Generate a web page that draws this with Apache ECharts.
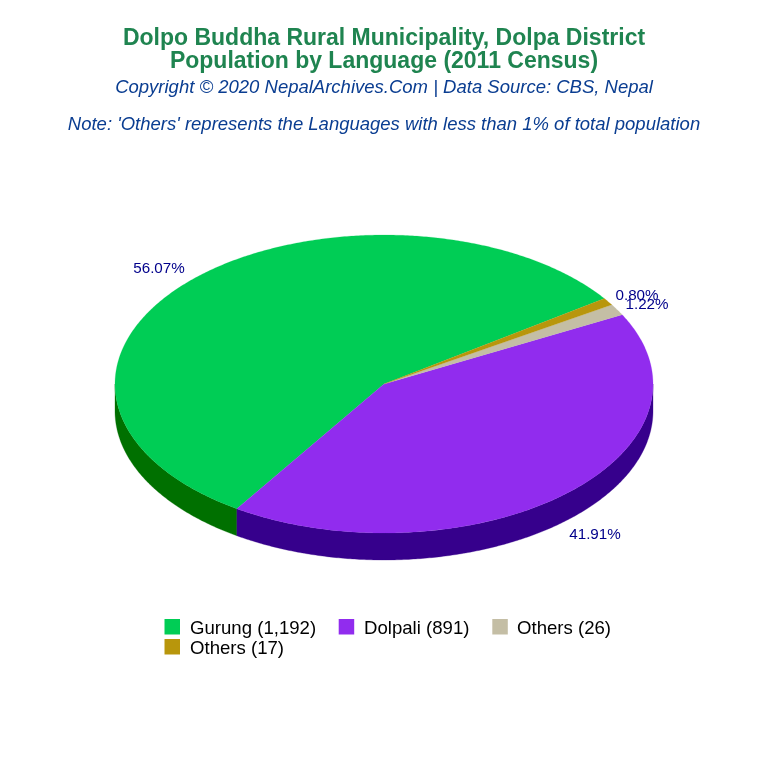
<!DOCTYPE html>
<html><head><meta charset="utf-8">
<style>html,body{margin:0;padding:0;background:#fff}#c{width:768px;height:768px}</style>
<script src="https://cdn.jsdelivr.net/npm/echarts@6/dist/echarts.min.js"></script>
</head><body><div id="c"></div>
<script>
const categories = ['Gurung (1,192)', 'Dolpali (891)', 'Others (26)', 'Others (17)'];
const values = [1192, 891, 26, 17];
const percentLabels = ['56.07%', '41.91%', '1.22%', '0.80%'];
const topColors = ['#00CD55', '#912CEE', '#C4BEA5', '#B8960C'];
const sideColors = ['#007000', '#36008C', '#8A8570', '#7A6200'];

const cx = 384, cy = 384, rx = 269, ry = 149, depth = 27;
const startDeg = 35;
const total = values.reduce((a, b) => a + b, 0);
const FONT = 'Liberation Sans';

function pt(deg, dy) {
  const r = deg * Math.PI / 180;
  return [cx + rx * Math.cos(r), cy - ry * Math.sin(r) + (dy || 0)];
}
function arc(a, b, dy) {
  const out = [];
  const n = Math.max(2, Math.ceil(Math.abs(b - a) * 2));
  for (let i = 0; i <= n; i++) out.push(pt(a + (b - a) * i / n, dy));
  return out;
}
const spans = [];
let acc = startDeg;
values.forEach((v, i) => { const s = v / total * 360; spans.push([acc, acc + s]); acc += s; });

function renderItem(params, api) {
  const i = api.value(0);
  const [a, b] = spans[i];
  const children = [];
  [[180, 360], [540, 720]].forEach(([lo, hi]) => {
    const s = Math.max(a, lo), e = Math.min(b, hi);
    if (e > s) {
      children.push({
        type: 'polygon', z2: 1,
        shape: { points: arc(s, e, 0).concat(arc(e, s, depth)) },
        style: { fill: sideColors[i], stroke: sideColors[i], lineWidth: 0.3 }
      });
    }
  });
  children.push({
    type: 'polygon', z2: 2,
    shape: { points: [[cx, cy]].concat(arc(a, b, 0)) },
    style: { fill: topColors[i], stroke: topColors[i], lineWidth: 0.2 }
  });
  return { type: 'group', children };
}

const labelPos = [[159, 269], [595, 535], [647, 305], [637, 296]];

const chart = echarts.init(document.getElementById('c'), null, { renderer: 'canvas' });
chart.setOption({
  animation: false,
  backgroundColor: '#fff',
  title: [
    { text: 'Dolpo Buddha Rural Municipality, Dolpa District', left: 379, top: 22, textAlign: 'center',
      textStyle: { fontFamily: FONT, fontSize: 23, fontWeight: 'bold', color: '#1F8450' } },
    { text: 'Population by Language (2011 Census)', left: 379, top: 45, textAlign: 'center',
      textStyle: { fontFamily: FONT, fontSize: 23, fontWeight: 'bold', color: '#1F8450' } },
    { text: 'Copyright © 2020 NepalArchives.Com | Data Source: CBS, Nepal', left: 379, top: 73, textAlign: 'center',
      textStyle: { fontFamily: FONT, fontSize: 18.5, fontStyle: 'italic', fontWeight: 'normal', color: '#0A3D91' } },
    { text: "Note: 'Others' represents the Languages with less than 1% of total population", left: 379, top: 110, textAlign: 'center',
      textStyle: { fontFamily: FONT, fontSize: 18.5, fontStyle: 'italic', fontWeight: 'normal', color: '#0A3D91' } }
  ],
  legend: { show: false },
  series: [{
    type: 'custom', coordinateSystem: 'none', silent: true,
    data: values.map((v, i) => [i, v]),
    renderItem
  }],
  graphic: [
    ...percentLabels.map((t, i) => ({
      type: 'text', x: labelPos[i][0], y: labelPos[i][1], z: 50,
      style: { text: t, fontFamily: FONT, fontSize: 15.2, fill: '#00008B', align: 'center', verticalAlign: 'middle' }
    })),
    ...[[164.5, 619, 0, 190, 629], [338.7, 619, 1, 364, 629], [492.3, 619, 2, 517, 629], [164.5, 639, 3, 190, 649]].flatMap(([sx, sy, i, tx, ty]) => [
      { type: 'rect', x: sx, y: sy, z: 50, shape: { width: 15.5, height: 15.5 }, style: { fill: topColors[i] } },
      { type: 'text', x: tx, y: ty, z: 50, style: { text: categories[i], fontFamily: FONT, fontSize: 18.6, fill: '#000', verticalAlign: 'middle' } }
    ])
  ]
});
</script></body></html>
